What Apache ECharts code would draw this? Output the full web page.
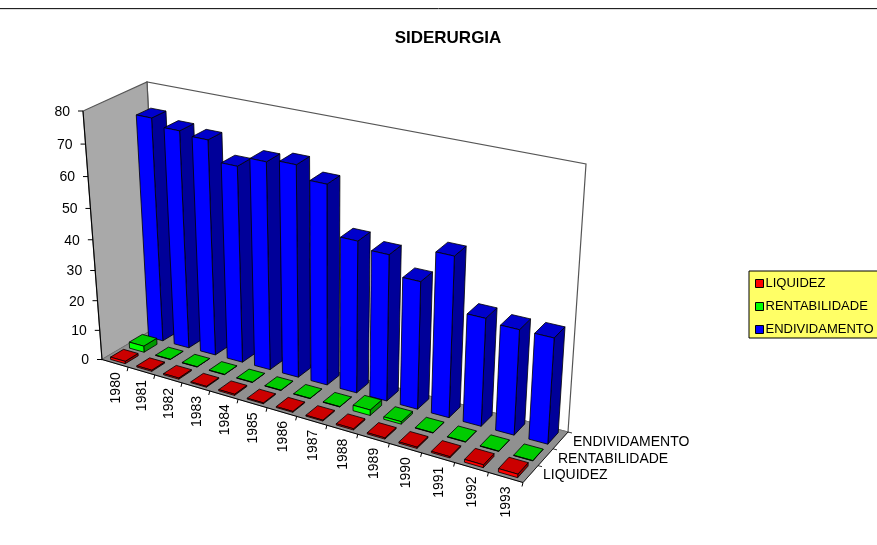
<!DOCTYPE html>
<html>
<head>
<meta charset="utf-8">
<title>SIDERURGIA</title>
<script src="https://cdn.jsdelivr.net/npm/echarts@6/dist/echarts.min.js"></script>
<style>
html, body { margin: 0; padding: 0; background: #fff; }
#main { width: 877px; height: 545px; }
</style>
</head>
<body>
<div id="main"></div>
<script>
var categories = ['1980', '1981', '1982', '1983', '1984', '1985', '1986', '1987', '1988', '1989', '1990', '1991', '1992', '1993'];
var valueTicks = [0, 10, 20, 30, 40, 50, 60, 70, 80];
var seriesNames = ['LIQUIDEZ', 'RENTABILIDADE', 'ENDIVIDAMENTO'];
var liquidez = [0.8, 0.4, 0.4, 0.3, 0.4, 0.3, 0.3, 0.3, 0.4, 0.4, 0.4, 0.4, 0.9, 1.1];
var rentabilidade = [2.1, 0.1, 0.1, 0.1, 0.1, 0.1, 0.1, 0.1, 1.8, 0.8, 0.1, 0.1, 0.1, 0.1];
var endividamento = [72.8, 70.6, 69.6, 63.4, 66.6, 67.6, 63.7, 48.5, 46.5, 40.5, 50.5, 34, 33, 33];

// corners of the 3d box on screen: floor, then the top of the box
var A = [102, 359.5], B = [523, 482.5], C = [568, 432], D = [159, 326];
var E = [83, 111], F = [536, 210], G = [586, 164], H = [147, 82];
var WARP_X = -0.14, WARP_Y = -0.07;
var BAR_U = 0.56, BAR_D = 0.23;
var font = '"Liberation Sans", Arial, sans-serif';

function lerp(p, q, t) {
	return [p[0] + (q[0] - p[0]) * t, p[1] + (q[1] - p[1]) * t];
}

// u along the years, d front to back, t share of the value axis
function proj(u, d, t) {
	var s = u * (1 + WARP_X) / (1 + WARP_X * u);
	var bottom = lerp(lerp(A, B, s), lerp(D, C, s), d);
	var top = lerp(lerp(E, F, s), lerp(H, G, s), d);
	return lerp(bottom, top, t * (1 + WARP_Y) / (1 + WARP_Y * t));
}

function poly(points, fill, stroke, width) {
	return {
		type: 'polygon',
		shape: { points: points },
		style: { fill: fill, stroke: stroke, lineWidth: width }
	};
}

function line(p, q, color, width) {
	return {
		type: 'line',
		shape: { x1: p[0], y1: p[1], x2: q[0], y2: q[1] },
		style: { stroke: color, lineWidth: width }
	};
}

function label(text, x, y, size, align, rotation) {
	return {
		type: 'text',
		x: x,
		y: y,
		rotation: rotation || 0,
		style: {
			text: text,
			fill: '#000',
			font: size + 'px ' + font,
			align: align,
			verticalAlign: 'middle'
		}
	};
}

function toShare(api, cs, cat, value) {
	var pt = api.coord([cat, value]);
	return [(pt[0] - cs.x) / cs.width, (cs.y + cs.height - pt[1]) / cs.height];
}

function barSeries(row, values, front, top, side) {
	return {
		name: seriesNames[row],
		type: 'custom',
		coordinateSystem: 'cartesian2d',
		color: front,
		itemStyle: { color: front },
		data: values.map(function (v, i) { return [i, v]; }),
		renderItem: function (params, api) {
			var cs = params.coordSys;
			var p = toShare(api, cs, api.value(0), api.value(1));
			var uw = api.size([1, 0])[0] / cs.width;
			var u0 = p[0] - uw * BAR_U / 2, u1 = p[0] + uw * BAR_U / 2;
			var mid = (row + 0.5) / seriesNames.length;
			var d0 = mid - BAR_D / 2, d1 = mid + BAR_D / 2;
			var t = p[1];
			return {
				type: 'group',
				children: [
					poly([proj(u1, d0, 0), proj(u1, d1, 0), proj(u1, d1, t), proj(u1, d0, t)], side, '#000', 0.8),
					poly([proj(u0, d0, t), proj(u1, d0, t), proj(u1, d1, t), proj(u0, d1, t)], top, '#000', 0.8),
					poly([proj(u0, d0, 0), proj(u1, d0, 0), proj(u1, d0, t), proj(u0, d0, t)], front, '#000', 0.8)
				]
			};
		}
	};
}

var wallSeries = {
	name: 'walls',
	type: 'custom',
	coordinateSystem: 'cartesian2d',
	data: [[0, 0]],
	renderItem: function () {
		return {
			type: 'group',
			children: [
				poly([D, C, G, H], '#fff', '#555', 1.2),
				poly([A, D, H, E], '#a9a9a9', '#555', 1.2),
				poly([A, B, C, D], '#909090', '#777', 0.8)
			]
		};
	}
};

var axisSeries = {
	name: 'axes',
	type: 'custom',
	coordinateSystem: 'cartesian2d',
	data: [[0, 0]],
	renderItem: function (params, api) {
		var cs = params.coordSys;
		var kids = [line(A, E, '#000', 1), line(A, B, '#000', 1), line(B, C, '#000', 0.8)];
		valueTicks.forEach(function (v) {
			var t = toShare(api, cs, 0, v)[1];
			var p = proj(0, 0, t);
			kids.push(line(p, [p[0] - 5, p[1]], '#000', 1));
			kids.push(label(String(v), p[0] - 13, p[1] + 1, 14, 'right'));
		});
		var uw = api.size([1, 0])[0] / cs.width;
		categories.forEach(function (c, i) {
			var u = toShare(api, cs, i, 0)[0];
			var m = proj(u, 0, 0);
			var e = proj(u + uw / 2, 0, 0);
			kids.push(line(e, [e[0] - 1, e[1] + 4], '#000', 1));
			kids.push(label(c, m[0] + 1, m[1] + 9, 14, 'right', Math.PI / 2));
		});
		seriesNames.forEach(function (n, i) {
			var p = proj(1, (i + 0.5) / seriesNames.length, 0);
			var e = proj(1, (i + 1) / seriesNames.length, 0);
			kids.push(line(e, [e[0] + 4, e[1] + 1], '#000', 0.8));
			kids.push(label(n, p[0] + 12.5, p[1] + 1.5, 14, 'left'));
		});
		return { type: 'group', children: kids };
	}
};

var option = {
	animation: false,
	backgroundColor: '#fff',
	title: {
		text: 'SIDERURGIA',
		left: 443,
		top: 25,
		textAlign: 'center',
		textStyle: { fontFamily: font, fontSize: 17, fontWeight: 'bold', color: '#000' }
	},
	graphic: [{
		type: 'line',
		shape: { x1: 0, y1: 8.5, x2: 877, y2: 8.5 },
		style: { stroke: '#222', lineWidth: 1 }
	}, {
		type: 'line',
		shape: { x1: 0, y1: 9.5, x2: 877, y2: 9.5 },
		style: { stroke: '#ddd', lineWidth: 1 }
	}],
	legend: {
		data: seriesNames,
		orient: 'vertical',
		left: 749,
		top: 271,
		icon: 'rect',
		itemWidth: 8,
		itemHeight: 8,
		itemGap: 10,
		padding: [6, 30, 2, 6],
		backgroundColor: '#ffff66',
		borderColor: '#000',
		borderWidth: 1,
		selectedMode: false,
		itemStyle: { borderColor: '#000', borderWidth: 1 },
		textStyle: { fontFamily: font, fontSize: 13, color: '#000', padding: [0, 0, 0, -3] }
	},
	grid: { left: 100, right: 100, top: 100, bottom: 100 },
	xAxis: { type: 'category', data: categories, show: false },
	yAxis: { type: 'value', min: 0, max: 80, interval: 10, show: false },
	series: [
		wallSeries,
		barSeries(2, endividamento, '#0000ff', '#0000cc', '#000099'),
		barSeries(1, rentabilidade, '#00ff00', '#00cc00', '#009900'),
		barSeries(0, liquidez, '#ff0000', '#cc0000', '#990000'),
		axisSeries
	]
};

var chart = echarts.init(document.getElementById('main'));
chart.setOption(option);
</script>
</body>
</html>
